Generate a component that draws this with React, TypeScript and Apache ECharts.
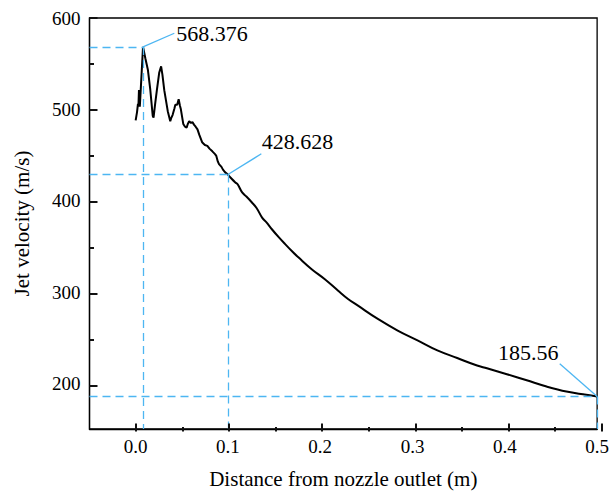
import React, { useEffect, useRef } from "react";
import * as echarts from "echarts";

// Distance from nozzle outlet (m)
const xs = [
  0.0, 0.0015, 0.0025, 0.003, 0.0036, 0.0045, 0.005, 0.0065, 0.008, 0.0105, 0.0133, 0.0158, 0.0185, 0.0194,
  0.021, 0.023, 0.0255, 0.0276, 0.029, 0.031, 0.0348, 0.0375, 0.0384, 0.0401, 0.042, 0.043, 0.045, 0.0466,
  0.048, 0.049, 0.0516, 0.0535, 0.0552, 0.0565, 0.058, 0.06, 0.0615, 0.0634, 0.065, 0.067, 0.069, 0.072,
  0.075, 0.0777, 0.08, 0.0831, 0.086, 0.0874, 0.089, 0.0903, 0.093, 0.0946, 0.097, 0.1,
  0.104, 0.108, 0.1105, 0.1154, 0.12, 0.126, 0.131, 0.137, 0.142, 0.1476, 0.155, 0.162, 0.17, 0.1763,
  0.1907, 0.205, 0.2194, 0.2301, 0.2409, 0.2624, 0.2839, 0.3054, 0.3269, 0.3484, 0.3699, 0.3806, 0.4022,
  0.4237, 0.4452, 0.4667, 0.4882, 0.5,
];
// Jet velocity (m/s)
const ys = [
  488, 497, 506, 503, 521, 503, 512, 540, 568.376, 556, 543, 522, 493, 491,
  505, 521, 540, 547, 538, 521, 498, 487, 490, 494, 501, 505, 505, 511,
  504, 500, 484, 481, 480, 484, 487, 485, 486, 483, 481, 478, 472, 464,
  461, 460, 457, 454, 451, 449, 443, 440, 437, 434, 431, 428.628,
  424, 420, 418, 409, 404.5, 398, 392, 381.5, 376, 368.7, 360, 352.4, 344, 338,
  325, 314, 301.4, 292.4, 285, 270.5, 257.8, 247, 236, 227.7, 219.5, 216.5, 210,
  203.3, 196.5, 191, 187.5, 185.56,
];

// axis ranges / ticks
const X_MIN = -0.05;
const X_MAX = 0.5;
const Y_MIN = 150;
const Y_MAX = 600;
const xTickLabels = [0, 0.1, 0.2, 0.3, 0.4, 0.5];
const yTickLabels = [200, 300, 400, 500, 600];
const X_MAJOR = { min: 0, max: 0.5, step: 0.1 };
const X_MINOR = { min: 0.05, max: 0.45, step: 0.1 };
const Y_MAJOR = { min: 200, max: 600, step: 100 };
const Y_MINOR = { min: 250, max: 550, step: 100 };
const SPLIT_X = 0.1; // noisy near-field part ends here, smooth decay follows

// annotated points with leader-line end and text anchor (data units)
const annPoints = [
  { x: 0.008, y: 568.376, label: "568.376", lx: 0.0419, ly: 583.3, tx: 0.0828, ty: 582.5 },
  { x: 0.1, y: 428.628, label: "428.628", lx: 0.1362, ly: 451.3, tx: 0.1753, ty: 464.4 },
  { x: 0.5, y: 185.56, label: "185.56", lx: 0.4595, ly: 221.5, tx: 0.4253, ty: 234.2 },
];

const FONT = "Liberation Serif, Times New Roman, serif";
const BLUE = "#4db6f2";

// plot frame in pixels
const W = 612;
const H = 494;
const PL = 89.5;
const PR = 601.5;
const PT = 18;
const PB = 431.5;

const px = (v: number) => PL + ((v - X_MIN) / (X_MAX - X_MIN)) * (PR - PL);
const py = (v: number) => PB - ((v - Y_MIN) / (Y_MAX - Y_MIN)) * (PB - PT);

export default function App() {
  const ref = useRef<HTMLDivElement>(null);
  const tickRef = useRef<HTMLDivElement>(null);

  useEffect(() => {
    if (!ref.current || !tickRef.current) return;
    const chart = echarts.init(ref.current, null, { renderer: "svg" });
    const ticks = echarts.init(tickRef.current, null, { renderer: "svg" });

    const dashed: any[] = [];
    const leaders: any[] = [];
    annPoints.forEach((p) => {
      dashed.push([{ coord: [X_MIN, p.y] }, { coord: [p.x, p.y] }]);
      dashed.push([{ coord: [p.x, p.y] }, { coord: [p.x, Y_MIN] }]);
      leaders.push([{ coord: [p.x, p.y] }, { coord: [p.lx, p.ly] }]);
    });

    const pts = xs.map((x, i) => [x, ys[i]]);
    const nearField = pts.filter((p) => p[0] <= SPLIT_X);
    const decay = pts.filter((p) => p[0] >= SPLIT_X);

    chart.setOption({
      animation: false,
      grid: {
        left: PL,
        right: W - PR,
        top: PT,
        bottom: H - PB,
        show: true,
        borderColor: "#000",
        borderWidth: 1.3,
      },
      xAxis: {
        type: "value",
        min: X_MIN,
        max: X_MAX,
        name: "Distance from nozzle outlet (m)",
        nameLocation: "middle",
        nameGap: 39,
        nameTextStyle: { fontFamily: FONT, fontSize: 21, color: "#000" },
        axisLine: { show: true, onZero: false, lineStyle: { color: "#000", width: 1.3 } },
        axisTick: { show: false },
        axisLabel: {
          customValues: xTickLabels,
          fontFamily: FONT,
          fontSize: 19,
          color: "#000",
          margin: 8,
          formatter: (v: number) => v.toFixed(1),
        },
        splitLine: { show: false },
      },
      yAxis: {
        type: "value",
        min: Y_MIN,
        max: Y_MAX,
        name: "Jet velocity (m/s)",
        nameLocation: "middle",
        nameGap: 57,
        nameTextStyle: { fontFamily: FONT, fontSize: 21, color: "#000" },
        axisLine: { show: true, onZero: false, lineStyle: { color: "#000", width: 1.3 } },
        axisTick: { show: false },
        axisLabel: { customValues: yTickLabels, fontFamily: FONT, fontSize: 19, color: "#000", margin: 9 },
        splitLine: { show: false },
      },
      series: [
        {
          type: "line",
          data: nearField,
          showSymbol: false,
          symbol: "none",
          lineStyle: { color: "#000", width: 2 },
          z: 3,
          markLine: {
            silent: true,
            symbol: "none",
            animation: false,
            label: { show: false },
            lineStyle: { color: BLUE, width: 1.3, type: [8, 5] },
            data: dashed,
          },
          markPoint: {
            silent: true,
            symbol: "circle",
            symbolSize: 1,
            itemStyle: { color: "transparent" },
            label: {
              show: true,
              position: "inside",
              fontFamily: FONT,
              fontSize: 22,
              color: "#000",
            },
            data: annPoints.map((p) => ({
              coord: [p.tx, p.ty],
              label: { formatter: p.label },
            })),
          },
        },
        {
          type: "line",
          data: decay,
          showSymbol: false,
          symbol: "none",
          smooth: 0.4,
          lineStyle: { color: "#000", width: 2 },
          z: 3,
          markLine: {
            silent: true,
            symbol: "none",
            animation: false,
            label: { show: false },
            lineStyle: { color: BLUE, width: 1.3, type: "solid" },
            data: leaders,
          },
        },
      ],
    });

    // tick overlay: major and minor ticks, each on its own value axis
    const tickGrid = (xr: any, yr: any) => ({
      left: px(xr.min),
      right: W - px(xr.max),
      top: py(yr.max),
      bottom: H - py(yr.min),
      show: false,
    });
    const tickAxis = (gridIndex: number, r: any, offset: number, length: number) => ({
      gridIndex,
      type: "value",
      min: r.min,
      max: r.max,
      interval: r.step,
      offset,
      axisLine: { show: false, onZero: false },
      axisTick: { show: true, inside: true, length, lineStyle: { color: "#111", width: 2 } },
      axisLabel: { show: false },
      splitLine: { show: false },
    });
    ticks.setOption({
      animation: false,
      grid: [
        { left: PL, right: W - PR, top: PT, bottom: H - PB, show: false },
        tickGrid(X_MAJOR, Y_MAJOR),
        tickGrid(X_MINOR, Y_MINOR),
      ],
      xAxis: [
        { gridIndex: 0, type: "value", min: X_MIN, max: X_MAX, axisLine: { show: false, onZero: false }, axisTick: { show: false }, axisLabel: { show: false }, splitLine: { show: false } },
        tickAxis(1, X_MAJOR, PB - py(Y_MAJOR.min), 8),
        tickAxis(2, X_MINOR, PB - py(Y_MINOR.min), 4.5),
      ],
      yAxis: [
        { gridIndex: 0, type: "value", min: Y_MIN, max: Y_MAX, axisLine: { show: false, onZero: false }, axisTick: { show: false }, axisLabel: { show: false }, splitLine: { show: false } },
        tickAxis(1, Y_MAJOR, px(X_MAJOR.min) - PL, 8),
        tickAxis(2, Y_MINOR, px(X_MINOR.min) - PL, 4.5),
      ],
      series: [{ type: "line", xAxisIndex: 0, yAxisIndex: 0, data: [[X_MIN, Y_MIN]], symbol: "none", lineStyle: { opacity: 0 } }],
    });

    return () => {
      chart.dispose();
      ticks.dispose();
    };
  }, []);

  return (
    <div style={{ position: "fixed", left: 0, top: 0, width: W, height: H, background: "#fff" }}>
      <div ref={ref} style={{ position: "absolute", left: 0, top: 0, width: W, height: H }} />
      <div
        ref={tickRef}
        style={{ position: "absolute", left: 0, top: 0, width: W, height: H, pointerEvents: "none" }}
      />
    </div>
  );
}
